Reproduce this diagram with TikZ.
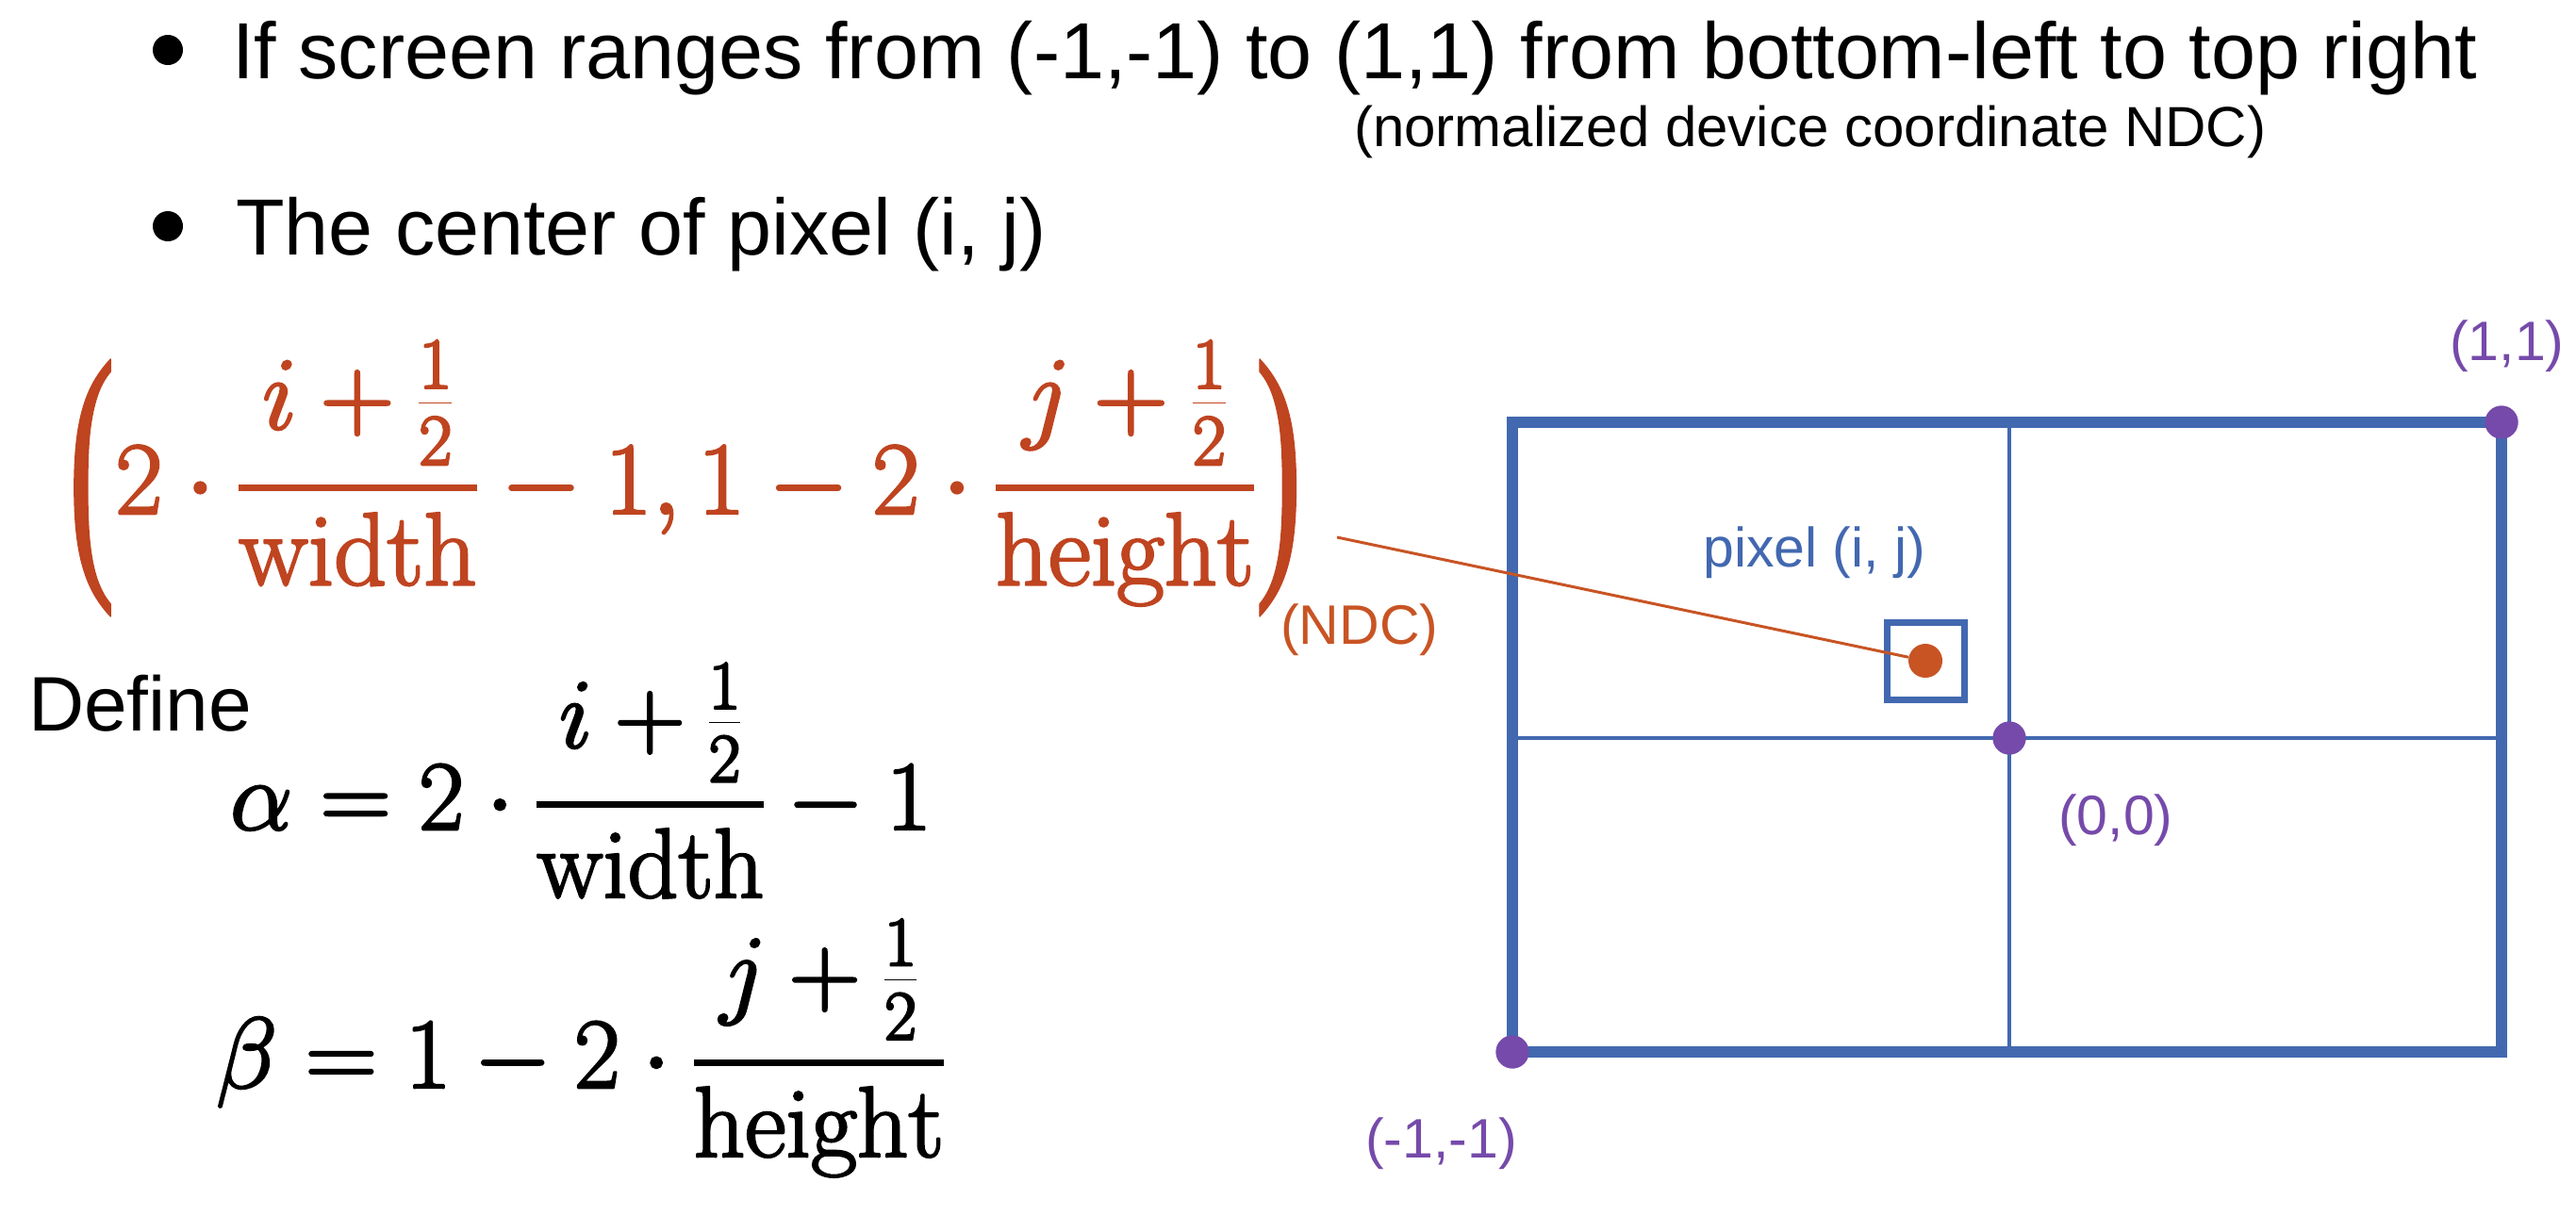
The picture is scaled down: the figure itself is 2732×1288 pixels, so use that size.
\RequirePackage{fix-cm}
\documentclass[tikz,border=0pt]{standalone}
\usepackage{amsmath}
\usepackage{fontspec}
\newfontfamily\slidefont{Liberation Sans}
\newfontfamily\parenfont{Liberation Serif}
\usetikzlibrary{positioning}
\definecolor{ndcred}{RGB}{191,68,32}
\definecolor{ndcorange}{RGB}{200,84,36}
\definecolor{scrblue}{RGB}{66,104,176}
\definecolor{ptpurple}{RGB}{118,74,170}
\tikzstyle{screen}=[draw=scrblue, line width=12pt]
\tikzstyle{gridline}=[draw=scrblue, line width=3.5pt]
\tikzstyle{pixbox}=[draw=scrblue, line width=7pt, minimum size=82pt, inner sep=0pt]
\tikzstyle{corner}=[circle, fill=ptpurple, minimum size=35pt, inner sep=0pt]
\tikzstyle{pixdot}=[circle, fill=ndcorange, minimum size=36pt, inner sep=0pt]
\tikzstyle{bullet}=[circle, fill=black, minimum size=32pt, inner sep=0pt]
\tikzstyle{link}=[draw=ndcorange, line width=3pt]
\tikzstyle{bigtext}=[font=\slidefont\fontsize{84.5}{100}\selectfont, inner sep=0pt, anchor=base west]
\tikzstyle{smalltext}=[font=\slidefont\fontsize{60}{72}\selectfont, inner sep=0pt, anchor=base west]
\tikzstyle{label}=[font=\slidefont\fontsize{59}{70}\selectfont, inner sep=0pt, anchor=base west]
\tikzstyle{eqn}=[font=\fontsize{105}{126}\selectfont, inner sep=0pt, anchor=base west]
\newcommand{\half}[2]{\genfrac{}{}{7pt}{0}{#1+\frac{1}{2}}{\mathrm{#2}}}
\newcommand{\tallparen}[1]{\vcenter{\hbox{\scalebox{0.5}[1]{\parenfont\fontsize{300}{300}\selectfont#1}}}}
\newcommand{\heavy}{\special{pdf:literal direct 2 Tr 2.5 w 1 j}}

\begin{document}
\begin{tikzpicture}[x=1pt, y=-1pt]
      \useasboundingbox (0,0) rectangle (2732,1288);

      % bullets
      \node[bullet] (b1) at (178,53) {};
      \node[bullet] (b2) at (178,240) {};
      \node[bigtext] (t1) at (246,83) {If screen ranges from (-1,-1) to (1,1) from bottom-left to top right};
      \node[smalltext] (t1sub) at (1436,155) {(normalized device coordinate NDC)};
      \node[bigtext] (t2) at (250,270) {The center of pixel (i, j)};

      % formulas
      \node[eqn, font=\fontsize{110}{130}\selectfont, text=ndcred] (ndc) at (72,545)
        {\heavy$\displaystyle\mathopen{\tallparen(}2\cdot\half{i}{width}-1,1-2\cdot\half{j}{height}\mathclose{\tallparen)}$};
      \node[label, text=ndcorange] (ndclbl) at (1358,683) {(NDC)};
      \node[bigtext, font=\slidefont\fontsize{82}{96}\selectfont] (def) at (30,775) {Define};
      \node[eqn] (alpha) at (244,880) {\heavy$\displaystyle\alpha=2\cdot\half{i}{width}-1$};
      \node[eqn, font=\fontsize{106.5}{128}\selectfont] (beta) at (229,1154) {\heavy$\displaystyle\beta=1-2\cdot\half{j}{height}$};

      % screen
      \node[corner] (bl) at (1604,1116) {};
      \node[corner] (tr) at (2653,448) {};
      \node[corner] (org) at (2131,783) {};
      \draw[screen] (bl.center) rectangle (tr.center);
      \draw[gridline] (org |- tr) -- (org |- bl);
      \draw[gridline] (org -| bl) -- (org -| tr);
      \foreach \p in {bl,tr,org}
      \fill[ptpurple] (\p) circle (17.5pt);

      \node[pixbox] (px) at (2042,701) {};
      \node[pixdot] (pxc) at (px) {};
      \coordinate (ndcend) at (1418,570);
      \draw[link] (ndcend) -- (pxc);

      \node[label, text=scrblue] (pxlbl) at (1806,601) {pixel (i, j)};
      \node[label, text=ptpurple] (trlbl) at (2598,382) {(1,1)};
      \node[label, text=ptpurple] (orglbl) at (2183,885) {(0,0)};
      \node[label, text=ptpurple] (bllbl) at (1448,1228) {(-1,-1)};
    \end{tikzpicture}
\end{document}
